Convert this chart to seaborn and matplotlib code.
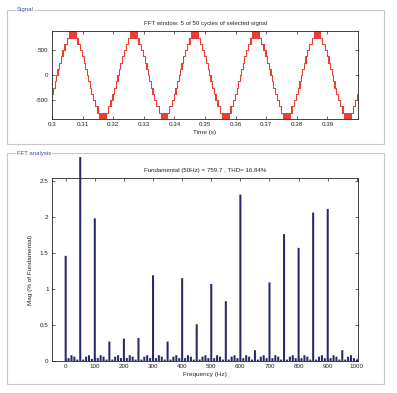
import matplotlib
matplotlib.use("Agg")
import matplotlib.pyplot as plt
from matplotlib.patches import Rectangle
import seaborn as sns

# ---- signal: stepped multilevel waveform ----
PERIOD_S = 0.02          # 50 Hz
T_ZERO_S = 0.3016        # rising zero crossing of the first cycle
STEP_V = 125             # height of one level
STEP_ANGLES_DEG = [4.5, 13.7, 23.3, 33.6, 45.3, 60.3]   # level k+1 switched on
STEP_DIPS_DEG = [3.4, 12.5, 22.0, 32.3, 43.9, 58.8]     # short pre-switch pulse
PEAK_PULSES_DEG = [(70.5, 72.5), (75.5, 78.5), (81.0, 85.0), (87.5, 92.5),
                   (95.0, 99.0), (101.5, 104.5), (107.5, 109.5)]
TIME_TICKS = [0.3, 0.31, 0.32, 0.33, 0.34, 0.35, 0.36, 0.37, 0.38, 0.39]
TIME_TICK_LABELS = ["0.3", "0.31", "0.32", "0.33", "0.34", "0.35", "0.36", "0.37", "0.38", "0.39"]
SIGNAL_TICKS = [-500, 0, 500]

# ---- FFT: magnitude (% of fundamental) per 10 Hz bin, 0..1000 Hz ----
FREQ_HZ = list(range(0, 1001, 10))
MAG_PCT = [
    1.46, 0.04, 0.08, 0.06, 0.02,   # 0
    2.83, 0.02, 0.06, 0.08, 0.03,   # 50
    1.98, 0.04, 0.08, 0.06, 0.02,   # 100
    0.27, 0.02, 0.06, 0.08, 0.04,   # 150
    0.31, 0.04, 0.08, 0.06, 0.02,   # 200
    0.32, 0.02, 0.06, 0.08, 0.04,   # 250
    1.19, 0.04, 0.08, 0.06, 0.02,   # 300
    0.27, 0.02, 0.06, 0.08, 0.04,   # 350
    1.15, 0.04, 0.08, 0.06, 0.02,   # 400
    0.51, 0.02, 0.06, 0.08, 0.04,   # 450
    1.07, 0.04, 0.08, 0.06, 0.02,   # 500
    0.83, 0.02, 0.06, 0.08, 0.04,   # 550
    2.31, 0.04, 0.08, 0.06, 0.02,   # 600
    0.15, 0.02, 0.06, 0.08, 0.04,   # 650
    1.09, 0.04, 0.08, 0.06, 0.02,   # 700
    1.76, 0.02, 0.06, 0.08, 0.04,   # 750
    1.57, 0.04, 0.08, 0.06, 0.02,   # 800
    2.06, 0.02, 0.06, 0.08, 0.04,   # 850
    2.11, 0.04, 0.08, 0.06, 0.02,   # 900
    0.15, 0.02, 0.06, 0.08, 0.04,   # 950
    0.02,                           # 1000
]
FREQ_TICKS = [0, 100, 200, 300, 400, 500, 600, 700, 800, 900, 1000]
MAG_TICKS = [0, 0.5, 1, 1.5, 2, 2.5]
MAG_TICK_LABELS = ["0", "0.5", "1", "1.5", "2", "2.5"]

RED = "#e8281e"
NAVY = "#28286e"
PANEL_EDGE = "#c8c8c8"
PANEL_LABEL = "#3a4fa0"


def period_events():
    """(angle, level) switching events over one period, starting at 0 deg."""
    ev = [(0.0, 0)]
    for k, (a, d) in enumerate(zip(STEP_ANGLES_DEG, STEP_DIPS_DEG)):
        ev += [(d, k + 1), (d + 0.5, k), (a, k + 1)]
        ev += [(180 - a, k), (180 - d - 0.5, k + 1), (180 - d, k)]
    for s, e in PEAK_PULSES_DEG:
        ev += [(s, 7), (e, 6)]
    ev.sort()
    neg = [(a + 180, -lvl) for a, lvl in ev]
    return ev + neg


def build_signal():
    ev = period_events()
    t, v = [], []
    for n in range(-1, 6):
        for a, lvl in ev:
            t.append(T_ZERO_S + (n + a / 360.0) * PERIOD_S)
            v.append(lvl * STEP_V)
    # keep window 0.3..0.4, starting with the level active at 0.3
    start = max(i for i, x in enumerate(t) if x <= 0.3)
    t, v = t[start:], v[start:]
    t[0] = 0.3
    end = min(i for i, x in enumerate(t) if x >= 0.4)
    return t[:end + 1], v[:end + 1]


def style_axes(ax):
    ax.tick_params(direction="in", length=2.5, width=0.5, top=True, right=True,
                   labelsize=4.5, pad=2.5, colors="#222222")
    for sp in ax.spines.values():
        sp.set_visible(True)
        sp.set_linewidth(0.6)
        sp.set_color("#222222")


def panel(fig, px_left, px_top, px_right, px_bottom, label):
    W, H = 397.0, 393.0
    x0, x1 = px_left / W, px_right / W
    y0, y1 = 1 - px_bottom / H, 1 - px_top / H
    fig.add_artist(Rectangle((x0, y0), x1 - x0, y1 - y0, transform=fig.transFigure,
                             fill=False, edgecolor=PANEL_EDGE, linewidth=0.8))
    fig.text(x0 + 10 / W, y1, label, fontsize=4.3, color=PANEL_LABEL, va="center", ha="left",
             bbox=dict(facecolor="white", edgecolor="none", pad=0.6))


def main():
    sns.set_style("ticks")
    plt.rcParams["font.family"] = ["Liberation Sans", "DejaVu Sans"]

    fig = plt.figure(figsize=(3.97, 3.93), dpi=100)
    fig.patch.set_facecolor("white")
    W, H = 397.0, 393.0

    panel(fig, 7, 10, 384, 144, "Signal")
    panel(fig, 7, 153, 384, 384, "FFT analysis")

    # Signal
    ax1 = fig.add_axes([52 / W, 1 - 119 / H, 306 / W, 88 / H])
    t, v = build_signal()
    sns.lineplot(x=t, y=v, ax=ax1, drawstyle="steps-post", estimator=None, sort=False,
                 color=RED, linewidth=0.75, alpha=0.9)
    ax1.set_xlim(0.3, 0.4)
    ax1.set_ylim(-880, 880)
    ax1.set_xticks(TIME_TICKS)
    ax1.set_xticklabels(TIME_TICK_LABELS)
    ax1.set_yticks(SIGNAL_TICKS)
    ax1.set_yticklabels([str(s) for s in SIGNAL_TICKS])
    ax1.set_xlabel("Time (s)", fontsize=4.6, labelpad=2)
    ax1.set_ylabel("")
    ax1.set_title("FFT window: 5 of 50 cycles of selected signal", fontsize=4.4, pad=4)
    style_axes(ax1)

    # FFT
    ax2 = fig.add_axes([52 / W, 1 - 361 / H, 306 / W, 183 / H])
    sns.barplot(x=FREQ_HZ, y=MAG_PCT, ax=ax2, native_scale=True, width=0.7,
                color=NAVY, saturation=1, errorbar=None, linewidth=0)
    for p in ax2.patches:
        p.set_clip_on(False)
        p.set_snap(False)
    ax2.set_xlim(-47, 1004)
    ax2.set_ylim(0, 2.54)
    ax2.set_xticks(FREQ_TICKS)
    ax2.set_xticklabels([str(f) for f in FREQ_TICKS])
    ax2.set_yticks(MAG_TICKS)
    ax2.set_yticklabels(MAG_TICK_LABELS)
    ax2.set_xlabel("Frequency (Hz)", fontsize=4.6, labelpad=2)
    ax2.set_ylabel("Mag (% of Fundamental)", fontsize=4.6, labelpad=5)
    ax2.set_title("Fundamental (50Hz) = 759.7 , THD= 16.84%", fontsize=4.4, pad=4)
    style_axes(ax2)

    fig.savefig("out.png", dpi=100)
    plt.close(fig)


if __name__ == "__main__":
    main()
